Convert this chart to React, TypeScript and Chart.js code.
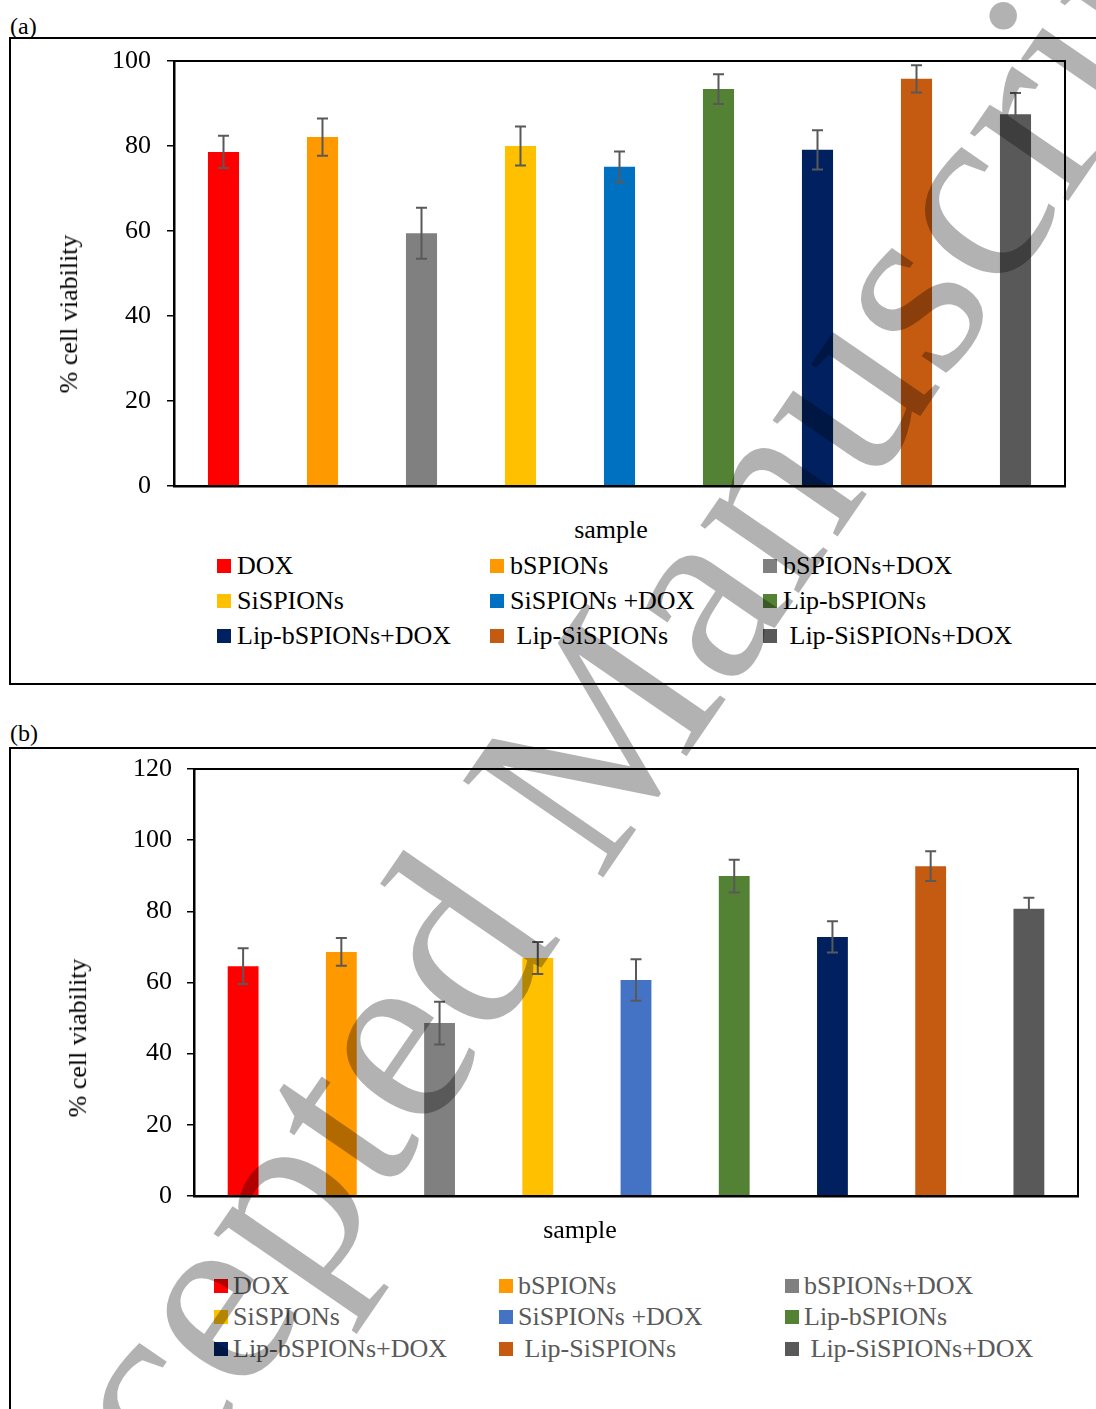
import React, { useEffect, useRef } from 'react';
import { Chart, registerables } from 'chart.js';

Chart.register(...registerables);

// ---------------- data ----------------
const categories = [
  'DOX',
  'bSPIONs',
  'bSPIONs+DOX',
  'SiSPIONs',
  'SiSPIONs +DOX',
  'Lip-bSPIONs',
  'Lip-bSPIONs+DOX',
  ' Lip-SiSPIONs',
  ' Lip-SiSPIONs+DOX',
];

const valuesA = [78.6, 82.1, 59.5, 80.0, 75.1, 93.4, 79.1, 95.8, 87.5];
const errorsA = [3.8, 4.4, 6.0, 4.6, 3.6, 3.5, 4.6, 3.2, 5.0];

const valuesB = [64.6, 68.6, 48.6, 66.9, 60.7, 89.9, 72.8, 92.7, 80.7];
const errorsB = [5.0, 3.9, 6.0, 4.5, 5.8, 4.6, 4.4, 4.2, 3.1];

const colorsA = ['#FF0000', '#FF9900', '#808080', '#FFC000', '#0070C0', '#548235', '#002060', '#C55A11', '#595959'];
const colorsB = ['#FF0000', '#FF9900', '#808080', '#FFC000', '#4472C4', '#548235', '#002060', '#C55A11', '#595959'];

const ticksA = [0, 20, 40, 60, 80, 100];
const ticksB = [0, 20, 40, 60, 80, 100, 120];

const yTitle = '% cell viability';
const xTitle = 'sample';
const panelLabels = ['(a)', '(b)'];
const watermarkText = 'Accepted Manuscript';

const FONT = '"Liberation Serif", "Times New Roman", serif';

// ---------------- plugins ----------------
const framePlugin = {
  id: 'frame',
  afterDatasetsDraw(chart: any) {
    const { ctx, chartArea } = chart;
    ctx.save();
    ctx.strokeStyle = '#000';
    ctx.lineWidth = 2;
    ctx.strokeRect(chartArea.left, chartArea.top, chartArea.right - chartArea.left, chartArea.bottom - chartArea.top);
    ctx.restore();
  },
};

const errorBarPlugin = {
  id: 'errorBars',
  afterDatasetsDraw(chart: any) {
    const { ctx } = chart;
    const yScale = chart.scales.y;
    chart.data.datasets.forEach((ds: any, di: number) => {
      const errs = ds.errors;
      if (!errs) return;
      const meta = chart.getDatasetMeta(di);
      ctx.save();
      ctx.strokeStyle = '#595959';
      ctx.lineWidth = 2;
      meta.data.forEach((bar: any, i: number) => {
        const v = ds.data[i];
        const e = errs[i];
        const x = bar.x;
        const yT = yScale.getPixelForValue(v + e);
        const yB = yScale.getPixelForValue(v - e);
        ctx.beginPath();
        ctx.moveTo(x, yT);
        ctx.lineTo(x, yB);
        ctx.moveTo(x - 5.5, yT);
        ctx.lineTo(x + 5.5, yT);
        ctx.moveTo(x - 5.5, yB);
        ctx.lineTo(x + 5.5, yB);
        ctx.stroke();
      });
      ctx.restore();
    });
  },
};

// ---------------- components ----------------
type PanelProps = {
  values: number[];
  errors: number[];
  colors: string[];
  ticks: number[];
  left: number;
  top: number;
  width: number;
  height: number;
  padTop: number;
  padRight: number;
  padBottom: number;
  yWidth: number;
  tickPad: number;
};

function BarPanel(p: PanelProps) {
  const ref = useRef<HTMLCanvasElement>(null);
  useEffect(() => {
    const chart = new Chart(ref.current as HTMLCanvasElement, {
      type: 'bar',
      data: {
        labels: categories,
        datasets: [
          {
            data: p.values,
            backgroundColor: p.colors,
            errors: p.errors,
            barPercentage: 0.314,
            categoryPercentage: 1,
          } as any,
        ],
      },
      options: {
        animation: false,
        responsive: false,
        devicePixelRatio: 1,
        layout: { padding: { top: p.padTop, right: p.padRight, bottom: p.padBottom, left: 0 } },
        plugins: { legend: { display: false }, tooltip: { enabled: false } },
        scales: {
          x: {
            grid: { display: false },
            ticks: { display: false },
            border: { display: true, color: '#000', width: 2.5 },
            afterFit: (s: any) => {
              s.height = 0;
              s.paddingLeft = 0;
              s.paddingRight = 0;
            },
          },
          y: {
            min: 0,
            max: p.ticks[p.ticks.length - 1],
            afterBuildTicks: (s: any) => {
              s.ticks = p.ticks.map((v) => ({ value: v }));
            },
            grid: { display: true, drawOnChartArea: false, drawTicks: true, tickLength: 7, color: '#000', lineWidth: 1.5 },
            border: { display: true, color: '#000', width: 2.5 },
            ticks: { padding: p.tickPad, color: '#000', font: { family: FONT, size: 26 } },
            afterFit: (s: any) => {
              s.width = p.yWidth;
              s.paddingTop = 0;
              s.paddingBottom = 0;
            },
          },
        },
      } as any,
      plugins: [framePlugin, errorBarPlugin],
    });
    return () => chart.destroy();
  }, []);
  return (
    <canvas
      ref={ref}
      width={p.width}
      height={p.height}
      style={{ position: 'absolute', left: p.left, top: p.top, width: p.width, height: p.height }}
    />
  );
}

function Legend(props: {
  colors: string[];
  markerLefts: number[];
  textGap: number;
  rowCenters: number[];
  textColor: string;
}) {
  return (
    <>
      {categories.map((c, i) => {
        const col = i % 3;
        const row = Math.floor(i / 3);
        return (
          <div
            key={i}
            style={{
              position: 'absolute',
              left: props.markerLefts[col],
              top: props.rowCenters[row] - 15,
              height: 30,
              display: 'flex',
              alignItems: 'center',
            }}
          >
            <div style={{ width: 14, height: 14, background: props.colors[i], marginRight: props.textGap }} />
            <span style={{ whiteSpace: 'pre', fontSize: 26, lineHeight: '30px', color: props.textColor }}>{c}</span>
          </div>
        );
      })}
    </>
  );
}

function CenteredText(props: { x: number; y: number; text: string; rotate?: boolean; size?: number }) {
  return (
    <div
      style={{
        position: 'absolute',
        left: props.x,
        top: props.y,
        transform: `translate(-50%, -50%)${props.rotate ? ' rotate(-90deg)' : ''}`,
        whiteSpace: 'nowrap',
        fontSize: props.size || 26,
        lineHeight: 1.15,
        color: '#000',
      }}
    >
      {props.text}
    </div>
  );
}

export default function App() {
  return (
    <div
      style={{
        position: 'absolute',
        left: 0,
        top: 0,
        width: 1096,
        height: 1409,
        overflow: 'hidden',
        background: '#fff',
        fontFamily: FONT,
      }}
    >
      {/* Panel (a) */}
      <div style={{ position: 'absolute', left: 10, top: 14, fontSize: 24, lineHeight: '24px' }}>{panelLabels[0]}</div>
      <div
        style={{
          position: 'absolute',
          left: 9,
          top: 37,
          width: 1200,
          height: 648,
          border: '2px solid #000',
          boxSizing: 'border-box',
        }}
      />
      <BarPanel
        values={valuesA}
        errors={errorsA}
        colors={colorsA}
        ticks={ticksA}
        left={0}
        top={40}
        width={1096}
        height={470}
        padTop={21}
        padRight={31}
        padBottom={24}
        yWidth={174}
        tickPad={16}
      />
      <CenteredText x={69} y={314} text={yTitle} rotate />
      <CenteredText x={611} y={530} text={xTitle} />
      <Legend colors={colorsA} markerLefts={[217, 490, 763]} textGap={6} rowCenters={[566, 601, 636]} textColor="#000" />

      {/* Panel (b) */}
      <div style={{ position: 'absolute', left: 10, top: 721, fontSize: 24, lineHeight: '24px' }}>{panelLabels[1]}</div>
      <div
        style={{
          position: 'absolute',
          left: 9,
          top: 747,
          width: 1200,
          height: 1000,
          border: '2px solid #000',
          boxSizing: 'border-box',
        }}
      />
      <BarPanel
        values={valuesB}
        errors={errorsB}
        colors={colorsB}
        ticks={ticksB}
        left={0}
        top={750}
        width={1096}
        height={470}
        padTop={19}
        padRight={18}
        padBottom={24}
        yWidth={194}
        tickPad={15}
      />
      <CenteredText x={78} y={1038} text={yTitle} rotate />
      <CenteredText x={580} y={1230} text={xTitle} />
      <Legend colors={colorsB} markerLefts={[214, 499, 785]} textGap={5} rowCenters={[1286, 1317, 1349]} textColor="#595959" />

      {/* Watermark */}
      <div
        style={{
          position: 'absolute',
          left: 6,
          top: 1746,
          transformOrigin: '0 0',
          transform: 'rotate(-55.5deg) translateY(-217.75px)',
          fontSize: 260,
          lineHeight: 1,
          color: 'rgba(0,0,0,0.3)',
          whiteSpace: 'nowrap',
          pointerEvents: 'none',
        }}
      >
        {watermarkText}
      </div>
    </div>
  );
}
